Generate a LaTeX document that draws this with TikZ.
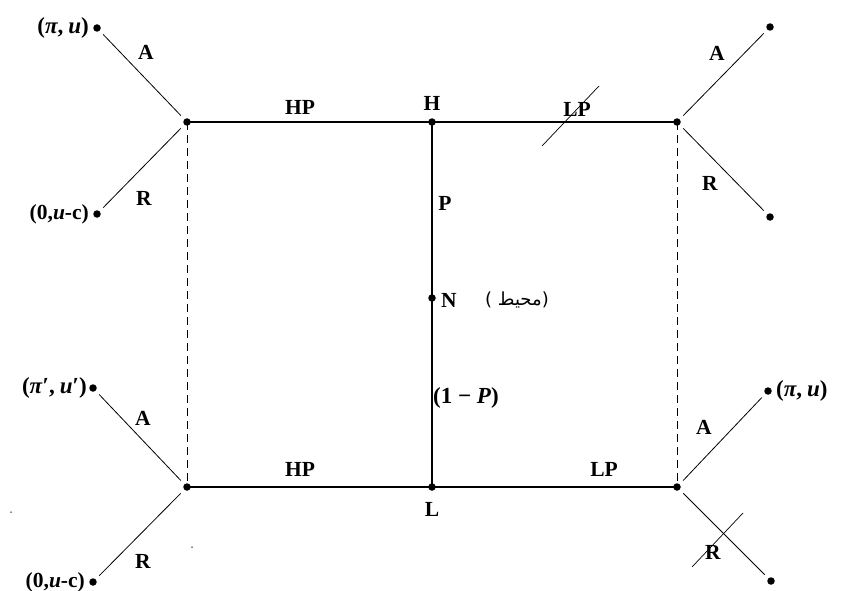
\documentclass[tikz,border=0pt]{standalone}
\usepackage{fontspec}
\setmainfont{Liberation Serif}
\newfontfamily\arabicfont[Script=Arabic]{DejaVu Sans}
\TeXXeTstate=1
\begin{document}
\begin{tikzpicture}[x=1pt,y=-1pt,
  dot/.style={circle,fill,inner sep=0pt,minimum size=7.5pt},
  speck/.style={circle,fill,inner sep=0pt,minimum size=1.5pt},
  lbl/.style={font=\fontsize{21.5}{25}\selectfont\bfseries,inner sep=1pt},
  mlbl/.style={font=\fontsize{23}{27}\selectfont\bfseries,inner sep=1pt},
  leaf/.style={line width=0.8pt,shorten <=5pt,shorten >=5pt},
  mainline/.style={line width=1.2pt},
  dashline/.style={line width=0.9pt,dash pattern=on 8pt off 5pt},
  slash/.style={line width=0.7pt}]
\useasboundingbox (0,0) rectangle (841,591);
% junctions and chance nodes
\node[dot] (tl) at (187,122) {};
\node[dot] (H)  at (432,122) {};
\node[dot] (tr) at (677,122) {};
\node[dot] (N)  at (432,298) {};
\node[dot] (bl) at (187,487) {};
\node[dot] (L)  at (432,487) {};
\node[dot] (br) at (677,487) {};
% leaves
\node[dot] (tlA) at (97,28) {};
\node[dot] (tlR) at (97,214) {};
\node[dot] (trA) at (770,27) {};
\node[dot] (trR) at (770,217) {};
\node[dot] (blA) at (93,388) {};
\node[dot] (blR) at (93,582) {};
\node[dot] (brA) at (768,391) {};
\node[dot] (brR) at (771,581) {};
% stray specks
\node[speck] (s1) at (11,512) {};
\node[speck] (s2) at (192,547) {};
% main lines
\draw[mainline] (tl.center) -- (H.center) -- (tr.center);
\draw[mainline] (bl.center) -- (L.center) -- (br.center);
\draw[mainline] (H.center) -- (N.center) -- (L.center);
\draw[dashline] (tl.center) -- (bl.center);
\draw[dashline] (tr.center) -- (br.center);
% leaf branches
\draw[leaf] (tl) -- (tlA);
\draw[leaf] (tl) -- (tlR);
\draw[leaf] (tr) -- (trA);
\draw[leaf] (tr) -- (trR);
\draw[leaf] (bl) -- (blA);
\draw[leaf] (bl) -- (blR);
\draw[leaf] (br) -- (brA);
\draw[leaf] (br) -- (brR);
% slash marks
\coordinate (sa1) at (542,146); \coordinate (sa2) at (599,86);
\coordinate (sb1) at (692,567); \coordinate (sb2) at (743,513);
\draw[slash] (sa1) -- (sa2);
\draw[slash] (sb1) -- (sb2);
% payoff labels
\node[mlbl,anchor=east] (ltlA) at ([xshift=-3pt]tlA.west) {(\textit{π},\hspace{5pt}\textit{u})};
\node[lbl,anchor=east] (ltlR) at ([xshift=-3pt]tlR.west) {(0,\textit{u}-c)};
\node[mlbl,anchor=east] (lblA) at ([xshift=-1pt]blA.west) {(\textit{π}′,\hspace{5pt}\textit{u}′)};
\node[lbl,anchor=east] (lblR) at ([xshift=-3pt]blR.west) {(0,\textit{u}-c)};
\node[mlbl,anchor=west] (lbrA) at ([xshift=3pt]brA.east) {(\textit{π},\hspace{5pt}\textit{u})};
% branch labels
\node[lbl] (a1) at (146,52) {A};
\node[lbl] (r1) at (144,198) {R};
\node[lbl] (a2) at (717,53) {A};
\node[lbl] (r2) at (710,183) {R};
\node[lbl] (a3) at (143,418) {A};
\node[lbl] (r3) at (143,561) {R};
\node[lbl] (a4) at (704,427) {A};
\node[lbl] (r4) at (713,552) {R};
\node[lbl] (hp1) at (300,107) {HP};
\node[lbl] (lp1) at (577,109) {LP};
\node[lbl] (hp2) at (300,469) {HP};
\node[lbl] (lp2) at (604,469) {LP};
\node[lbl] (lH) at (432,103) {H};
\node[lbl] (lL) at (432,509) {L};
\node[lbl] (lP) at (445,203) {P};
\node[lbl] (lN) at (449,300) {N};
\node[mlbl,anchor=west] (l1P) at (432,398) {(1 − \textit{P})};
\node[font=\fontsize{18}{20}\selectfont,inner sep=1pt] (nat) at (517,300) {\arabicfont\beginR(محيط )\endR};
\end{tikzpicture}
\end{document}
